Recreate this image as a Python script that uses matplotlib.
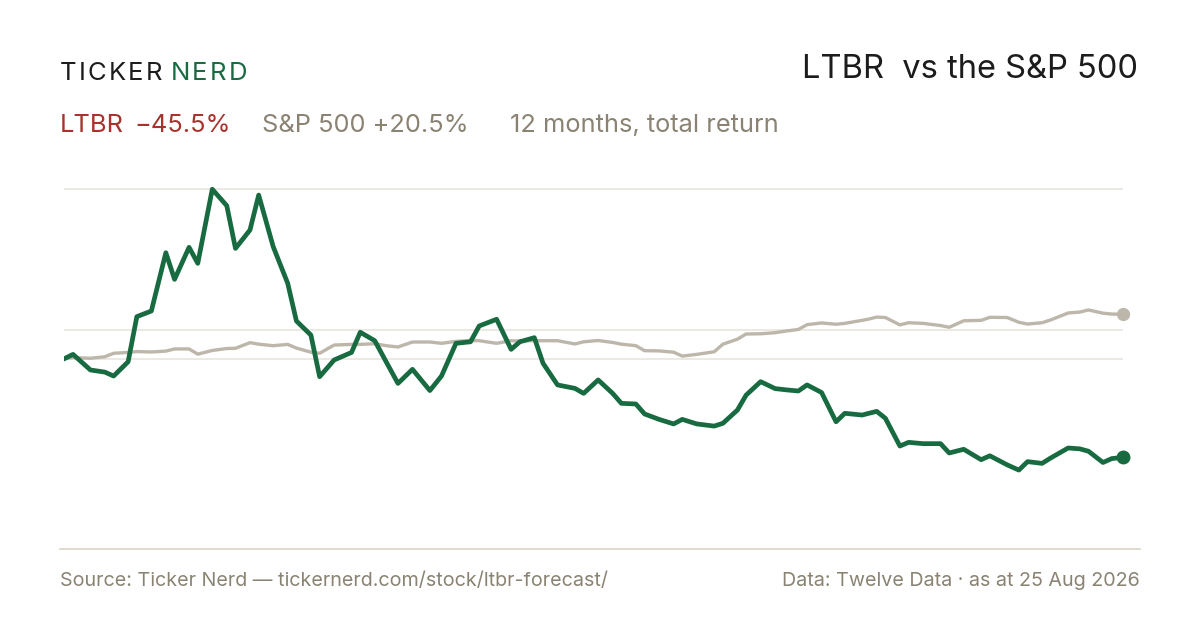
import matplotlib
matplotlib.use("Agg")
import matplotlib.pyplot as plt
import numpy as np

# ---------------- data ----------------
days = [0, 3, 9, 14, 17, 22, 25, 30, 35, 38, 43, 46, 51, 56, 59, 64, 67, 72, 77, 80,
        85, 88, 93, 99, 102, 107, 111, 115, 120, 126, 130, 135, 140, 143, 149, 154, 157,
        162, 165, 170, 176, 179, 184, 189, 192, 197, 200, 205, 210, 213, 218, 224, 227,
        232, 235, 240, 245, 249, 253, 256, 261, 266, 269, 275, 277, 280, 283, 288, 291,
        296, 302, 305, 310, 316, 319, 325, 329, 332, 337, 340, 346, 350, 353, 358, 361, 365]

ltbr = [0.0, 2.0, -5.2, -6.2, -8.0, -1.4, 19.4, 22.0, 48.9, 36.6, 51.4, 44.0, 78.2, 70.6,
        50.9, 59.4, 75.5, 51.7, 34.8, 17.4, 10.9, -8.3, -0.6, 2.9, 12.2, 8.3, -1.6, -11.4,
        -4.9, -14.7, -8.0, 7.1, 7.8, 15.1, 18.2, 4.3, 7.8, 9.7, -2.1, -12.1, -13.7, -16.0,
        -9.8, -16.0, -20.6, -20.9, -25.5, -28.0, -30.1, -28.0, -30.1, -31.1, -29.8, -23.7,
        -16.8, -10.6, -13.8, -14.4, -14.9, -12.1, -15.6, -29.1, -25.2, -26.0, -25.3, -24.3,
        -27.5, -40.3, -38.6, -39.2, -39.2, -43.5, -41.8, -46.6, -44.8, -49.0, -51.4, -47.5,
        -48.3, -45.8, -41.2, -41.6, -42.7, -47.9, -46.1, -45.5]

spx = [0.0, 0.5, 0.2, 0.9, 2.5, 2.9, 3.3, 3.1, 3.5, 4.5, 4.5, 2.1, 3.8, 4.7, 4.8, 7.4, 6.7,
       6.0, 6.6, 4.9, 3.0, 2.5, 6.3, 6.6, 6.6, 6.9, 6.0, 5.4, 7.7, 7.7, 7.1, 8.0, 8.4, 8.3,
       7.1, 8.3, 8.2, 8.3, 8.3, 8.3, 6.8, 7.8, 8.4, 7.5, 6.7, 6.0, 3.7, 3.6, 3.0, 1.2, 2.0,
       3.2, 6.7, 9.0, 11.4, 11.5, 12.0, 12.8, 13.5, 15.7, 16.5, 15.9, 16.3, 17.7, 18.2, 19.2,
       19.0, 15.6, 16.6, 16.3, 15.3, 14.5, 17.5, 17.7, 19.1, 19.0, 16.8, 16.0, 16.6, 17.9,
       21.1, 21.5, 22.5, 21.0, 20.6, 20.5]

ticker = "LTBR"
ltbr_change = "\u221245.5%"
spx_label = "S&P 500 +20.5%"
period_label = "12 months, total return"
title = "LTBR  vs the S&P 500"
source = "Source: Ticker Nerd \u2014 tickernerd.com/stock/ltbr-forecast/"
data_note = "Data: Twelve Data \u00b7 as at 25 Aug 2026"

# ---------------- style ----------------
GREEN = "#186b41"
RED = "#a8322d"
GREY_TXT = "#8a8373"
SPX_COL = "#bdb6aa"
GRID = "#ebe7e0"
SEP = "#dcd7cb"
DARK = "#1c1c1c"
FONT = ["Inter", "DejaVu Sans"]

plt.rcParams["font.family"] = FONT

W, H = 1200, 630
fig = plt.figure(figsize=(W / 100, H / 100), dpi=100)
fig.patch.set_facecolor("white")

def fx(px):
    return px / W

def fy(py):
    return 1 - py / H

# axes: x from 64.3 to 1123.3 px, y from 180 to 540 px
ax = fig.add_axes([fx(64.3), fy(540), (1123.3 - 64.3) / W, 360 / H])
ax.set_xlim(days[0], days[-1])
ax.set_ylim(-83.66, 82.46)
ax.axis("off")

ymax = max(ltbr)
ymin = min(ltbr)
for g in [ymax, (ymax + ymin) / 2, 0.0]:
    ax.axhline(g, color=GRID, lw=1.3, zorder=1)

ax.plot(days, spx, color=SPX_COL, lw=2.4, solid_joinstyle="round", zorder=2)
ax.plot(days, ltbr, color=GREEN, lw=3.4, solid_joinstyle="round", zorder=3)
ax.plot([days[-1]], [spx[-1]], "o", color=SPX_COL, ms=8.5, clip_on=False, zorder=4)
ax.plot([days[-1]], [ltbr[-1]], "o", color=GREEN, ms=9, clip_on=False, zorder=5)

# ---------------- texts ----------------
renderer = fig.canvas.get_renderer()

def tracked(text, x_px, y_px, size, color, track_px):
    x = x_px
    for ch in text:
        t = fig.text(fx(x), fy(y_px), ch, fontsize=size, color=color, va="baseline", ha="left")
        bb = t.get_window_extent(renderer)
        x += bb.width + track_px
    return x

xe = tracked("TICKER", 60, 79.5, 18.5, DARK, 2.2)
tracked("NERD", xe + 6, 79.5, 18.5, GREEN, 2.2)

fig.text(fx(1138.5), fy(78), title, fontsize=23.5, color=DARK, ha="right", va="baseline")

SUB = 18.3
fig.text(fx(60), fy(132.5), ticker, fontsize=SUB, color=RED, ha="left", va="baseline")
fig.text(fx(134), fy(132.5), ltbr_change, fontsize=SUB, color=RED, ha="left", va="baseline")
fig.text(fx(262.5), fy(132.5), spx_label, fontsize=SUB, color=GREY_TXT, ha="left", va="baseline")
fig.text(fx(510), fy(132.5), period_label, fontsize=SUB, color=GREY_TXT, ha="left", va="baseline")

fig.add_artist(plt.Line2D([fx(60), fx(1140)], [fy(549), fy(549)], color=SEP, lw=1.3))

fig.text(fx(60), fy(586.5), source, fontsize=14.2, color=GREY_TXT, ha="left", va="baseline")
fig.text(fx(1140), fy(586.5), data_note, fontsize=14.2, color=GREY_TXT, ha="right", va="baseline")

fig.savefig("out.png", dpi=100, facecolor="white")
